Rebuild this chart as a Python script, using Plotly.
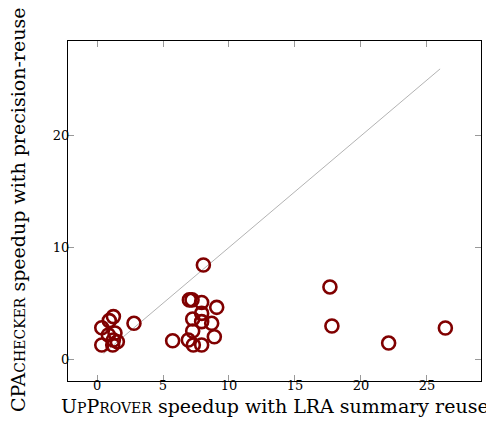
import plotly.graph_objects as go

# UpProver speedup (x) vs CPAchecker speedup (y)
upprover = [0.36, 0.36, 0.86, 0.93, 1.19, 1.24, 1.24, 1.36, 1.54, 2.8,
            5.73, 6.92, 7.0, 7.2, 7.25, 7.25, 7.3, 7.93, 7.93, 7.93, 7.93,
            8.06, 8.69, 8.89, 9.07,
            17.65, 17.8, 22.1, 26.4]
cpachecker = [2.8, 1.26, 2.15, 3.44, 1.26, 3.8, 1.7, 2.33, 1.55, 3.2,
              1.64, 1.70, 5.3, 5.3, 3.59, 2.51, 1.26, 5.07, 4.09, 3.35, 1.26,
              8.43, 3.2, 2.0, 4.63,
              6.46, 2.96, 1.43, 2.78]
diag = [0.5, 26.0]

x_ticks = [0, 5, 10, 15, 20, 25]
y_ticks = [0, 10, 20]

fig = go.Figure()
fig.add_trace(go.Scatter(x=diag, y=diag, mode="lines",
                         line=dict(color="#b3b3b3", width=1), hoverinfo="skip",
                         showlegend=False))
fig.add_trace(go.Scatter(x=upprover, y=cpachecker, mode="markers",
                         marker=dict(symbol="circle-open", size=13, color="#800000",
                                     line=dict(width=2.6, color="#800000")),
                         showlegend=False))

font = "DejaVu Serif, serif"
axis_common = dict(showline=True, linecolor="black", linewidth=1, mirror="allticks",
                   ticks="inside", ticklen=6, tickcolor="#999999", tickwidth=1,
                   showgrid=False, zeroline=False, automargin=False,
                   tickfont=dict(family=font, size=13, color="black"))

fig.update_layout(
    width=486, height=415,
    margin=dict(l=60, r=13, t=33, b=42),
    plot_bgcolor="white", paper_bgcolor="white",
    xaxis=dict(range=[-2.2, 29.1], tickvals=x_ticks, ticklabelstandoff=-8, **axis_common),
    yaxis=dict(range=[-1.97, 28.5], tickvals=y_ticks, ticklabelstandoff=-5, **axis_common),
    annotations=[
        dict(text="U<span style='font-size:14px'>P</span>P<span style='font-size:14px'>ROVER</span> speedup with LRA summary reuse",
             xref="paper", yref="paper", x=0.5, y=0, yshift=-38,
             xanchor="center", yanchor="bottom", showarrow=False,
             font=dict(family=font, size=19, color="black")),
        dict(text="CPA<span style='font-size:14px'>CHECKER</span> speedup with precision-reuse",
             xref="paper", yref="paper", x=0, y=0.503, xshift=-50,
             xanchor="center", yanchor="middle", textangle=-90, showarrow=False,
             font=dict(family=font, size=19, color="black")),
    ],
)

fig.write_html("out.html")
